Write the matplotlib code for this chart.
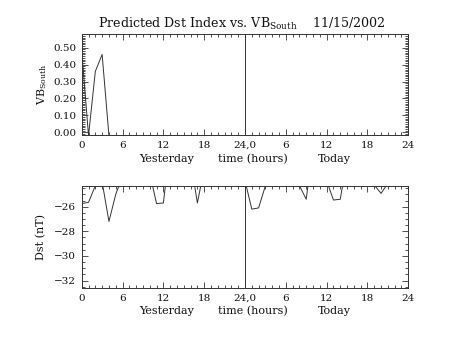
import numpy as np
import matplotlib
matplotlib.use("Agg")
import matplotlib.pyplot as plt
from matplotlib.ticker import MultipleLocator, FixedLocator

plt.rcParams["font.family"] = "DejaVu Serif"
plt.rcParams["mathtext.fontset"] = "custom"
plt.rcParams["mathtext.rm"] = "DejaVu Serif"

# hourly values over two days (0-47 h)
vb_hours = [0, 1, 2, 3, 4]
vb_south = [0.48, -0.02, 0.36, 0.46, -0.02]

dst_hours = list(range(48))
dst = [-25.75, -25.65, -24.3, -24.0, -27.2, -25.0, -23.5, -23.2,
       -23.0, -23.1, -23.3, -25.75, -25.7, -21.0, -22.0, -22.5,
       -22.2, -25.7, -22.9, -23.2, -23.4, -23.6, -23.8, -23.9,
       -23.9, -26.2, -26.1, -24.3, -23.8, -23.5, -23.6, -24.0,
       -24.3, -25.4, -21.0, -22.5, -23.9, -25.46, -25.4, -22.1,
       -23.0, -23.5, -24.0, -24.25, -24.92, -24.1, -23.8, -23.6]

xticks = [0, 6, 12, 18, 24, 30, 36, 42, 48]
xticklabels = ["0", "6", "12", "18", "24,0", "6", "12", "18", "24"]

ink = "#333333"
fig = plt.figure(figsize=(4.53, 3.40), dpi=100)


def style(ax, ymajor, yminor, ylim):
    ax.set_xlim(0, 48)
    ax.set_ylim(*ylim)
    ax.xaxis.set_major_locator(FixedLocator(xticks))
    ax.set_xticklabels(xticklabels)
    ax.xaxis.set_minor_locator(MultipleLocator(1))
    ax.yaxis.set_major_locator(MultipleLocator(ymajor))
    ax.yaxis.set_minor_locator(MultipleLocator(yminor))
    ax.tick_params(which="both", direction="in", top=True, right=True,
                   colors=ink, labelcolor="#111111", width=0.6, labelsize=7.5)
    ax.tick_params(which="major", length=4, pad=4)
    ax.tick_params(which="minor", length=2)
    for s in ax.spines.values():
        s.set_color(ink)
        s.set_linewidth(0.7)
    ax.axvline(24, color=ink, lw=0.7)
    tr = ax.get_xaxis_transform()
    for x, txt in [(12.5, "Yesterday"), (25.2, "time (hours)"), (37.2, "Today")]:
        ax.text(x, -0.23, txt, transform=tr, ha="center", va="center",
                fontsize=8, color="#111111")


ax1 = fig.add_axes([0.1804, 0.602, 0.7209, 0.299])
ax1.plot(vb_hours, vb_south, color=ink, lw=0.7)
style(ax1, 0.1, 0.01, (-0.018, 0.583))
ax1.yaxis.set_major_formatter(plt.FuncFormatter(lambda v, p: f"{v:.2f}"))
ax1.set_ylabel(r"VB$_{\mathrm{South}}$", fontsize=8, labelpad=3, color="#111111")
ax1.set_title(r"Predicted Dst Index vs. VB$_{\mathrm{South}}$    11/15/2002",
              fontsize=9.1, pad=4, x=0.49, color="#111111")

ax2 = fig.add_axes([0.1804, 0.153, 0.7209, 0.300])
ax2.plot(dst_hours, dst, color=ink, lw=0.7)
style(ax2, 2, 0.5, (-32.6, -24.32))
ax2.yaxis.set_major_formatter(plt.FuncFormatter(lambda v, p: f"\u2212{abs(v):.0f}"))
ax2.set_ylabel("Dst (nT)", fontsize=8, labelpad=6, color="#111111")

fig.savefig("out.png", dpi=100)
